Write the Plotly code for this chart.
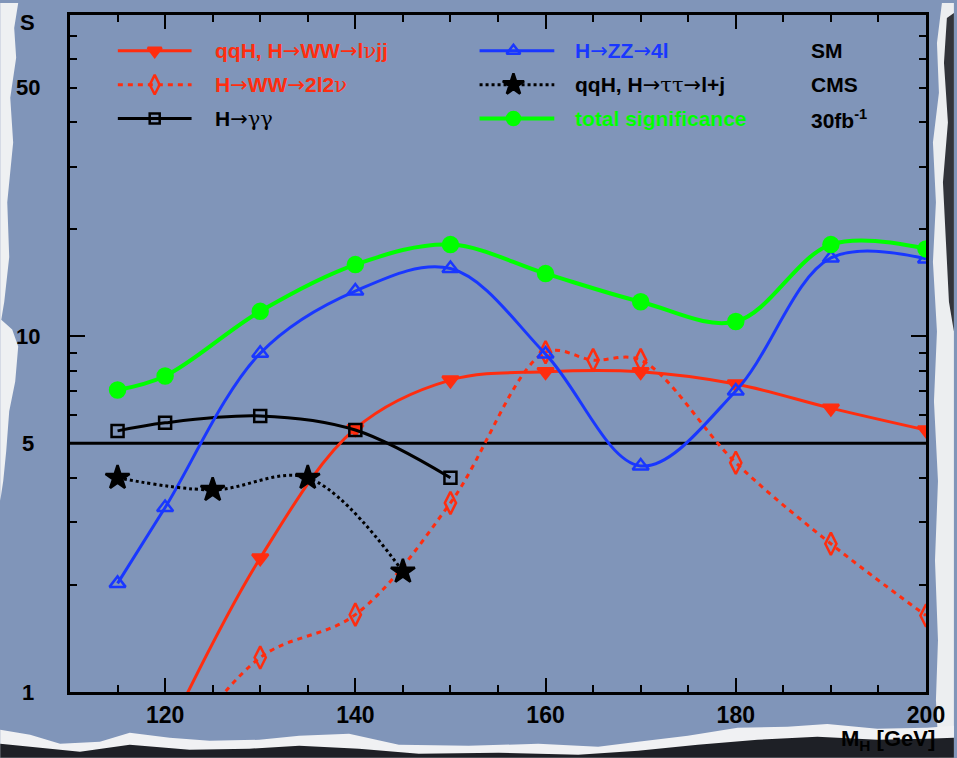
import numpy as np
import plotly.graph_objects as go

# ---------------- data ----------------
mh_lvjj = [120, 130, 140, 150, 160, 170, 180, 190, 200]
s_lvjj = [0.74, 2.38, 5.50, 7.53, 7.95, 7.95, 7.34, 6.28, 5.45]

mh_2l2v = [120, 130, 140, 150, 160, 165, 170, 180, 190, 200]
s_2l2v = [0.60, 1.25, 1.65, 3.40, 9.02, 8.57, 8.57, 4.41, 2.61, 1.64]

mh_gg = [115, 120, 130, 140, 150]
s_gg = [5.42, 5.71, 5.97, 5.45, 4.00]

mh_zz = [115, 120, 130, 140, 150, 160, 170, 180, 190, 200]
s_zz = [2.02, 3.30, 8.96, 13.4, 15.5, 8.91, 4.32, 7.02, 16.6, 16.5]

mh_tt = [115, 125, 135, 145]
s_tt = [4.00, 3.70, 4.00, 2.18]

mh_tot = [115, 120, 130, 140, 150, 160, 170, 180, 190, 200]
s_tot = [7.06, 7.73, 11.75, 15.9, 18.1, 15.0, 12.5, 11.0, 18.1, 17.6]

ref_x = [110, 200]
ref_s = [5, 5]

x_major = [120, 140, 160, 180, 200]
x_minor = [115, 125, 130, 135, 145, 150, 155, 165, 170, 175, 185, 190, 195]
y_major = [1, 10]
y_minor = [2, 3, 4, 5, 6, 7, 8, 9, 20, 30, 40, 50, 60, 70, 80]
y_label_vals = [1, 5, 10, 50]
y_label_text = ["1", "5", "10", "50"]

# ---------------- styling ----------------
RED = "rgb(255,45,15)"
BLUE = "rgb(25,55,255)"
GREEN = "rgb(0,255,0)"
BLACK = "black"
BG = "rgb(128,149,185)"
FONT = "Liberation Sans, Arial, sans-serif"

W, H = 957, 758
L, R, T, B = 70, 929, 12, 692

ARROW = "<span style='font-family:DejaVu Sans;font-weight:normal'>→</span>"
def sym(ch):
    return f"<span style='font-family:DejaVu Serif;font-weight:normal'>{ch}</span>"


def px(x):
    return (x - L) / (R - L)


def py(y):
    return (B - y) / (B - T)


series = [
    dict(x=mh_lvjj, y=s_lvjj, color=RED, dash="solid", symbol="triangle-down", size=14, lw=3,
         name=f"qqH, H{ARROW}WW{ARROW}l{sym('ν')}jj", tcolor=RED),
    dict(x=mh_2l2v, y=s_2l2v, color=RED, dash="5px,5px", symbol="diamond-tall-open", size=16, lw=3,
         name=f"H{ARROW}WW{ARROW}2l2{sym('ν')}", tcolor=RED),
    dict(x=mh_gg, y=s_gg, color=BLACK, dash="solid", symbol="square-open", size=12, lw=3,
         name=f"H{ARROW}{sym('γγ')}", tcolor=BLACK),
    dict(x=mh_zz, y=s_zz, color=BLUE, dash="solid", symbol="triangle-up-open", size=14, lw=3,
         name=f"H{ARROW}ZZ{ARROW}4l", tcolor=BLUE),
    dict(x=mh_tt, y=s_tt, color=BLACK, dash="dot", symbol="star", size=18, lw=3,
         name=f"qqH, H{ARROW}{sym('ττ')}{ARROW}l+j", tcolor=BLACK),
    dict(x=mh_tot, y=s_tot, color=GREEN, dash="solid", symbol="circle", size=15, lw=4,
         name="total significance", tcolor=GREEN),
]

fig = go.Figure()

fig.add_trace(go.Scatter(x=ref_x, y=ref_s, mode="lines", line=dict(color=BLACK, width=3),
                         showlegend=False, hoverinfo="skip"))

for s in series:
    fig.add_trace(go.Scatter(
        x=s["x"], y=s["y"], mode="lines+markers",
        line=dict(color=s["color"], width=s["lw"], dash=s["dash"], shape="spline", smoothing=1.0),
        marker=dict(symbol=s["symbol"], size=s["size"], color=s["color"],
                    line=dict(color=s["color"], width=2.5)),
        showlegend=False, hoverinfo="x+y"))

# ---------------- manual legend (overlay axes in pixel units) ----------------
rows = [48, 82, 116]
cols = [(118, 192, 155, 213), (481, 556, 515, 575)]
annotations = []
for i, s in enumerate(series):
    c = cols[i // 3]
    r = rows[i % 3]
    fig.add_trace(go.Scatter(x=[c[0], c[1]], y=[r, r], mode="lines", xaxis="x2", yaxis="y2",
                             line=dict(color=s["color"], width=s["lw"], dash=s["dash"]),
                             showlegend=False, hoverinfo="skip"))
    fig.add_trace(go.Scatter(x=[c[2]], y=[r], mode="markers", xaxis="x2", yaxis="y2",
                             marker=dict(symbol=s["symbol"], size=s["size"] - 2, color=s["color"],
                                         line=dict(color=s["color"], width=2.5)),
                             showlegend=False, hoverinfo="skip"))
    annotations.append(dict(x=px(c[3]), y=py(r), xref="paper", yref="paper", text=s["name"],
                            showarrow=False, xanchor="left", yanchor="middle",
                            font=dict(family=FONT, size=21, color=s["tcolor"], weight="bold")))

for txt, r in zip(["SM", "CMS", "30fb<sup>-1</sup>"], rows):
    annotations.append(dict(x=px(812), y=py(r), xref="paper", yref="paper", text=txt,
                            showarrow=False, xanchor="left", yanchor="middle",
                            font=dict(family=FONT, size=21, color=BLACK, weight="bold")))

for v, t in zip(y_label_vals, y_label_text):
    annotations.append(dict(x=px(28), y=np.log10(v), xref="paper", yref="y", text=t,
                            showarrow=False, xanchor="center", yanchor="middle",
                            font=dict(family=FONT, size=22, color=BLACK, weight="bold")))

annotations.append(dict(x=px(27), y=py(20), xref="paper", yref="paper", text="S", showarrow=False,
                        xanchor="center", yanchor="middle",
                        font=dict(family=FONT, size=22, color=BLACK, weight="bold")))
annotations.append(dict(x=px(940), y=py(740), xref="paper", yref="paper",
                        text="M<sub>H</sub> [GeV]", showarrow=False,
                        xanchor="right", yanchor="middle",
                        font=dict(family="Liberation Sans Narrow, " + FONT, size=22, color=BLACK,
                                  weight="bold")))

# ---------------- torn paper edges (decoration) ----------------
def path(points):
    return "M " + " L ".join(f"{px(x):.4f},{py(y):.4f}" for x, y in points) + " Z"


left_white = [(0, 0), (18, 0), (14, 25), (16, 55), (10, 95), (13, 140), (7, 200), (9, 255), (4, 300),
              (1, 318), (12, 328), (18, 345), (15, 380), (9, 410), (6, 450), (3, 480), (0, 500)]
right_white = [(957, 0), (945, 0), (940, 40), (942, 90), (936, 140), (939, 200), (936, 260),
               (940, 330), (937, 400), (941, 480), (938, 560), (941, 640), (939, 700), (942, 758),
               (957, 758)]
right_dark = [(957, 10), (950, 15), (947, 60), (951, 120), (946, 180), (949, 240), (952, 300),
              (957, 330)]
bottom_white = [(0, 758), (0, 730), (30, 735), (60, 744), (100, 742), (130, 733), (170, 738),
                (210, 741), (260, 740), (300, 736), (350, 734), (400, 745), (470, 746), (540, 744),
                (600, 747), (640, 742), (690, 736), (740, 728), (790, 727), (830, 724), (880, 729),
                (930, 728), (957, 726), (957, 758)]
bottom_dark = [(0, 758), (0, 744), (40, 748), (80, 752), (130, 745), (190, 750), (250, 749),
               (300, 746), (360, 749), (420, 754), (500, 753), (580, 755), (640, 751), (700, 745),
               (760, 740), (820, 737), (880, 740), (930, 739), (957, 738), (957, 758)]

shapes = []
for pts, col in [(left_white, "rgb(238,240,242)"), (right_white, "rgb(236,238,240)"),
                 (right_dark, "rgb(50,52,58)"), (bottom_white, "rgb(240,241,243)"),
                 (bottom_dark, "rgb(30,32,38)")]:
    shapes.append(dict(type="path", path=path(pts), xref="paper", yref="paper",
                       fillcolor=col, line=dict(width=0), layer="below"))

fig.update_layout(
    width=W, height=H,
    margin=dict(l=L, r=W - R, t=T, b=H - B),
    paper_bgcolor=BG, plot_bgcolor=BG,
    showlegend=False,
    annotations=annotations,
    shapes=shapes,
    xaxis=dict(range=[110, 200], showgrid=False, zeroline=False,
               showline=True, linecolor=BLACK, linewidth=3, mirror="ticks",
               ticks="inside", ticklen=14, tickwidth=2, tickcolor=BLACK,
               tickmode="array", tickvals=x_major, ticktext=[str(v) for v in x_major],
               tickfont=dict(family=FONT, size=23, color=BLACK, weight="bold"),
               minor=dict(tickmode="array", tickvals=x_minor, ticks="inside", ticklen=7,
                          tickwidth=2, tickcolor=BLACK, showgrid=False)),
    yaxis=dict(type="log", range=[0, np.log10(80)], showgrid=False, zeroline=False,
               showline=True, linecolor=BLACK, linewidth=3, mirror="ticks",
               ticks="inside", ticklen=15, tickwidth=2, tickcolor=BLACK,
               tickmode="array", tickvals=y_major, showticklabels=False,
               minor=dict(tickmode="array", tickvals=y_minor, ticks="inside", ticklen=7,
                          tickwidth=2, tickcolor=BLACK, showgrid=False)),
    xaxis2=dict(range=[L, R], overlaying="x", visible=False, fixedrange=True),
    yaxis2=dict(range=[B, T], overlaying="y", visible=False, fixedrange=True),
)

fig.write_html("out.html")
